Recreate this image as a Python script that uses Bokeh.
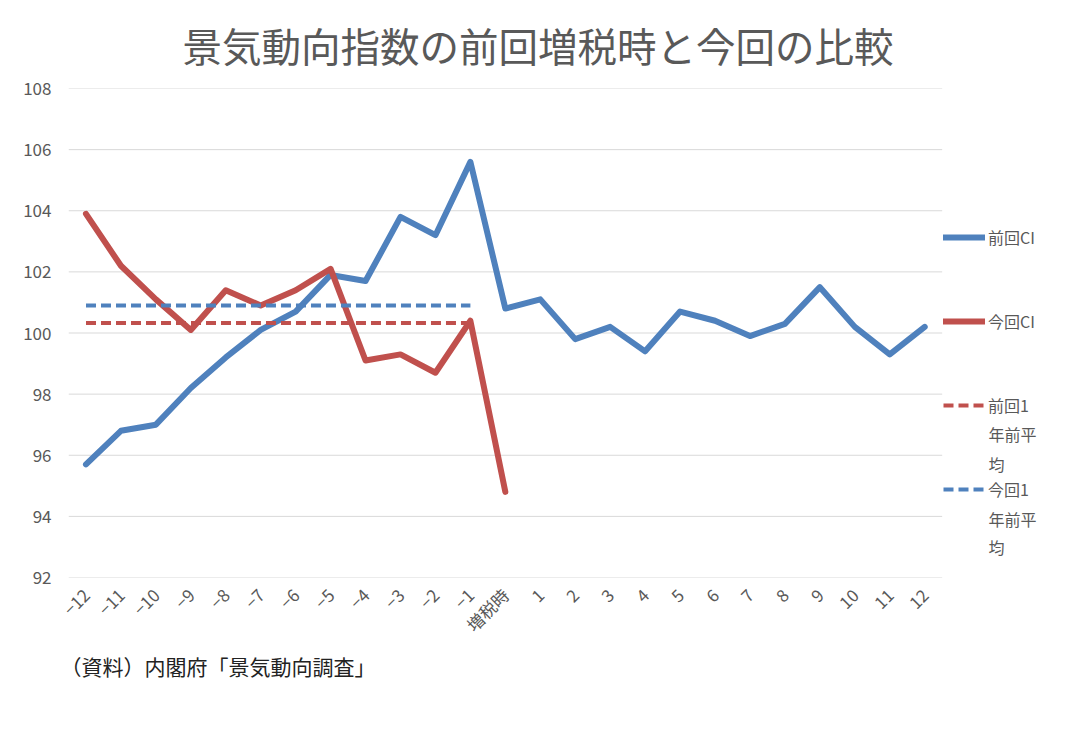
from bokeh.plotting import figure
from bokeh.models import Legend, LegendItem, Label, FixedTicker, Range1d, Title
from bokeh.embed import file_html
from bokeh.resources import INLINE

x_labels = ["−12", "−11", "−10", "−9", "−8", "−7", "−6", "−5", "−4", "−3", "−2", "−1",
            "増税時", "1", "2", "3", "4", "5", "6", "7", "8", "9", "10", "11", "12"]
x_pos = list(range(-12, 13))

prev_ci = [95.7, 96.8, 97.0, 98.2, 99.2, 100.1, 100.7, 101.9, 101.7, 103.8, 103.2, 105.6,
           100.8, 101.1, 99.8, 100.2, 99.4, 100.7, 100.4, 99.9, 100.3, 101.5, 100.2, 99.3, 100.2]
curr_ci = [103.9, 102.2, 101.1, 100.1, 101.4, 100.9, 101.4, 102.1, 99.1, 99.3, 98.7, 100.4, 94.8]
prev_avg = 100.33   # 前回1年前平均
curr_avg = 100.9    # 今回1年前平均
avg_x = list(range(-12, 0))

y_ticks = [92, 94, 96, 98, 100, 102, 104, 106, 108]

BLUE = "#4F81BD"
RED = "#C0504D"
GRAY = "#595959"
FONT = "Noto Sans CJK JP"

# plot area spans x -12.5..12.5; the frame is widened to the right to hold the legend
p = figure(width=1064, height=719, output_backend="svg", toolbar_location=None,
           x_range=Range1d(-12.5, 16.0), y_range=Range1d(92, 108),
           min_border_left=68, min_border_right=0, min_border_top=88, min_border_bottom=142)
p.outline_line_color = None
p.background_fill_color = "white"
p.border_fill_color = "white"

p.title.text = "景気動向指数の前回増税時と今回の比較"
p.title.align = "left"
p.title.offset = 114
p.title.text_font = FONT
p.title.text_font_size = "39.5px"
p.title.text_font_style = "normal"
p.title.text_color = GRAY
p.title.vertical_align = "top"
p.title.standoff = 27

p.xgrid.visible = False
p.ygrid.visible = False
p.segment(x0=-12.5, x1=12.5, y0=y_ticks, y1=y_ticks, line_color="#D9D9D9", line_width=1)

p.yaxis.ticker = FixedTicker(ticks=y_ticks)
p.yaxis.axis_line_color = None
p.yaxis.major_tick_line_color = None
p.yaxis.minor_tick_line_color = None
p.yaxis.major_label_text_font = FONT
p.yaxis.major_label_text_font_size = "17px"
p.yaxis.major_label_text_color = GRAY
p.yaxis.major_label_standoff = 11

p.xaxis.ticker = FixedTicker(ticks=x_pos)
p.xaxis.major_label_overrides = {xp: lab for xp, lab in zip(x_pos, x_labels)}
p.xaxis.major_label_orientation = 0.785398
p.xaxis.axis_line_color = None
p.xaxis.major_tick_line_color = None
p.xaxis.minor_tick_line_color = None
p.xaxis.major_label_text_font = FONT
p.xaxis.major_label_text_font_size = "17px"
p.xaxis.major_label_text_color = GRAY
p.xaxis.major_label_standoff = 8

r_prev = p.line(x_pos, prev_ci, line_color=BLUE, line_width=6, line_cap="round", line_join="round")
r_curr = p.line(x_pos[:len(curr_ci)], curr_ci, line_color=RED, line_width=6, line_cap="round", line_join="round")
r_pavg = p.line(avg_x, [prev_avg] * len(avg_x), line_color=RED, line_width=4, line_dash="10 5")
r_cavg = p.line(avg_x, [curr_avg] * len(avg_x), line_color=BLUE, line_width=4, line_dash="10 5")

legend = Legend(items=[LegendItem(label="前回CI", renderers=[r_prev]),
                       LegendItem(label="今回CI", renderers=[r_curr]),
                       LegendItem(label="前回1", renderers=[r_pavg]),
                       LegendItem(label="今回1", renderers=[r_cavg])],
                location=(875, 76), orientation="vertical",
                spacing=60, padding=0, margin=0, glyph_width=42, glyph_height=20,
                label_standoff=3, label_text_font=FONT, label_text_font_size="16px",
                label_text_color=GRAY, border_line_color=None, background_fill_alpha=0)
p.add_layout(legend, "center")

for txt, yy in [("年前平", 144), ("均", 114), ("年前平", 59), ("均", 31)]:
    p.add_layout(Label(x=920, y=yy, x_units="screen", y_units="screen", text=txt,
                       text_font=FONT, text_font_size="16px", text_color=GRAY,
                       text_baseline="middle"))

src = Title(text="（資料）内閣府「景気動向調査」", align="left", offset=-8,
            text_font=FONT, text_font_size="21px", text_font_style="normal",
            text_color="#222222", standoff=0)
p.add_layout(src, "below")

open("out.html", "w").write(file_html(p, INLINE))
